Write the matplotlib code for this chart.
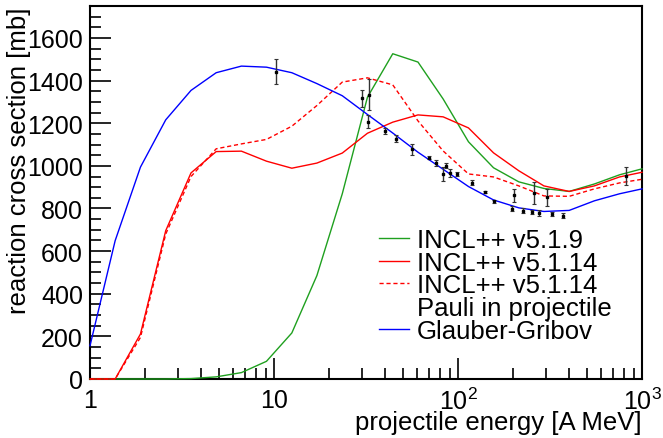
import numpy as np
import matplotlib

matplotlib.use("Agg")

import matplotlib.pyplot as plt
from matplotlib.lines import Line2D
from matplotlib.ticker import FixedLocator, FuncFormatter, LogLocator, NullFormatter, MultipleLocator

plt.rcParams["font.family"] = ["Liberation Sans", "DejaVu Sans"]
plt.rcParams["mathtext.fontset"] = "custom"
plt.rcParams["mathtext.rm"] = "Liberation Sans"
plt.rcParams["mathtext.it"] = "Liberation Sans"

# energy grid of the model curves [A MeV]
energy = [1, 1.37, 1.88, 2.58, 3.54, 4.85, 6.65, 9.1, 12.5, 17.1, 23.5, 32.2,
          44.2, 60.6, 83, 114, 156, 214, 293, 402, 551, 755, 1000]

incl_519 = [0, 0, 0, 0, 2, 10, 30, 83, 216, 485, 869, 1322,
            1526, 1487, 1314, 1113, 991, 925, 894, 880, 915, 958, 986]
incl_5114 = [0, 0, 211, 696, 967, 1067, 1069, 1022, 989, 1013, 1060, 1153,
             1205, 1239, 1230, 1178, 1061, 977, 906, 880, 906, 948, 970]
incl_5114_pauli = [0, 0, 195, 680, 950, 1080, 1103, 1124, 1186, 1283, 1393, 1413,
                   1380, 1211, 1070, 962, 948, 906, 859, 857, 892, 920, 937]
glauber = [156, 649, 994, 1216, 1354, 1437, 1468, 1463, 1437, 1386, 1329, 1241,
           1154, 1064, 984, 903, 840, 803, 786, 791, 836, 869, 892]

# experimental data
exp_energy = [10.3, 30, 33, 32.4, 40.1, 46, 56, 69.6, 75.9, 83.2, 86.1, 90.5, 98.4,
              119, 140, 157, 196, 202, 225, 251, 260, 276, 306, 326, 372, 819]
exp_xs = [1442, 1317, 1334, 1208, 1164, 1127, 1078, 1039, 1015, 962, 1001, 967, 962,
          920, 877, 833, 798, 861, 790, 785, 873, 780, 853, 773, 767, 953]
exp_err = [60, 41, 74, 31, 13, 16, 26, 9, 14, 31, 12, 19, 11,
           12, 3, 8, 12, 31, 11, 10, 51, 13, 39, 9, 12, 42]

green = "#1fa01f"

fig = plt.figure(figsize=(6.63, 4.39), dpi=100)
ax = fig.add_axes([90 / 663, 1 - 380 / 439, 552 / 663, 373 / 439])

ax.plot(energy, incl_519, color=green, lw=1.0, zorder=3, clip_on=False)
ax.plot(energy, incl_5114, color="red", lw=1.0, zorder=3, clip_on=False)
ax.plot(energy, incl_5114_pauli, color="red", lw=1.0, ls=(0, (3, 2)), zorder=3, clip_on=False)
ax.plot(energy, glauber, color="blue", lw=1.0, zorder=3, clip_on=False)
ax.errorbar(exp_energy, exp_xs, yerr=exp_err, fmt="s", ms=1.8, color="black",
            ecolor="#333333", elinewidth=1.0, capsize=1.2, capthick=0.8, lw=0, zorder=4)

ax.set_xscale("log")
ax.set_xlim(1, 1000)
ax.set_ylim(0, 1750)

ax.yaxis.set_minor_locator(MultipleLocator(50))
ax.set_yticks(range(0, 1601, 200))


def fmt_x(x, _):
    labels = {1: "1", 10: "10", 100: "$10^{2}$", 1000: "$10^{3}$"}
    return labels.get(int(round(x)), "")


ax.xaxis.set_major_locator(FixedLocator([1, 10, 100, 1000]))
ax.xaxis.set_major_formatter(FuncFormatter(fmt_x))
ax.xaxis.set_minor_locator(LogLocator(base=10, subs=np.arange(2, 10)))
ax.xaxis.set_minor_formatter(NullFormatter())

ax.tick_params(axis="both", which="both", direction="in", top=False, right=False,
               labelsize=18, width=1.2)
ax.tick_params(axis="y", which="major", length=15, pad=5)
ax.tick_params(axis="y", which="minor", length=8)
ax.tick_params(axis="x", which="major", length=15, pad=6.5)
ax.tick_params(axis="x", which="minor", length=8)

for sp in ax.spines.values():
    sp.set_linewidth(1.5)

ax.set_xlabel("projectile energy [A MeV]", fontsize=18.5, loc="right", labelpad=-3)
ax.set_ylabel("reaction cross section [mb]", fontsize=18.5, loc="top", labelpad=-3)

handles = [
    Line2D([], [], color=green, lw=1.0),
    Line2D([], [], color="red", lw=1.0),
    Line2D([], [], color="red", lw=1.0, ls=(0, (3, 2))),
    Line2D([], [], color="none", lw=0),
    Line2D([], [], color="blue", lw=1.0),
]
labels = ["INCL++ v5.1.9", "INCL++ v5.1.14", "INCL++ v5.1.14",
          "Pauli in projectile", "Glauber-Gribov"]
ax.legend(handles, labels, loc="upper left", bbox_to_anchor=(0.523, 0.405),
          frameon=False, fontsize=18.5, handlelength=1.17, handletextpad=0.31,
          labelspacing=-0.05, borderpad=0, borderaxespad=0)

fig.savefig("out.png", dpi=100)
